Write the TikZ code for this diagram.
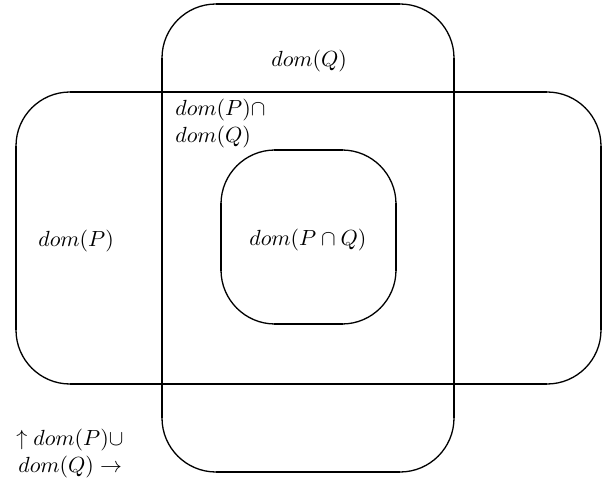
\documentclass[tikz,border=0pt]{standalone}
\usepackage{amssymb}
\begin{document}
\begin{tikzpicture}[x=0.5pt,y=-0.5pt,
  curve/.style={line width=0.65pt,rounded corners=27pt},
  edge/.style={line width=1.25pt},
  edgemid/.style={line width=0.95pt},
  lbl/.style={inner sep=0pt,anchor=base west,font=\fontsize{11.3}{14}\selectfont}]
\useasboundingbox (0,0) rectangle (604,480);

% dom(P): wide rounded box
\draw[curve] (16,92) rectangle (601,384);
\draw[edge] (70,92) -- (547,92);
\draw[edge] (16,146) -- (16,330);
\draw[edge] (601,146) -- (601,330);
\draw[edgemid] (70,384) -- (547,384);

% dom(Q): tall rounded box
\draw[curve] (162,4) rectangle (454,472);
\draw[edgemid] (216,4) -- (400,4);
\draw[edge] (162,58) -- (162,418);
\draw[edgemid] (454,58) -- (454,418);
\draw[edgemid] (216,472) -- (400,472);

% dom(P cap Q): inner rounded box
\draw[curve] (221,150) rectangle (396,324);
\draw[edge] (274,150) -- (343,150);
\draw[edge] (274,324) -- (343,324);
\draw[edge] (221,203) -- (221,271);
\draw[edge] (396,203) -- (396,271);

% labels
\node[lbl] (lq) at (271,67) {$dom(Q)$};
\node[lbl] (lpq1) at (175,116) {$dom(P)\cap$};
\node[lbl] (lpq2) at (175,143) {$dom(Q)$};
\node[lbl] (lp) at (38,247) {$dom(P)$};
\node[lbl] (lin) at (249,246) {$dom(P\cap Q)$};
\node[lbl] (lu1) at (16,445) {$\uparrow dom(P)\cup$};
\node[lbl] (lu2) at (18,472) {$dom(Q)\rightarrow$};
\end{tikzpicture}
\end{document}
